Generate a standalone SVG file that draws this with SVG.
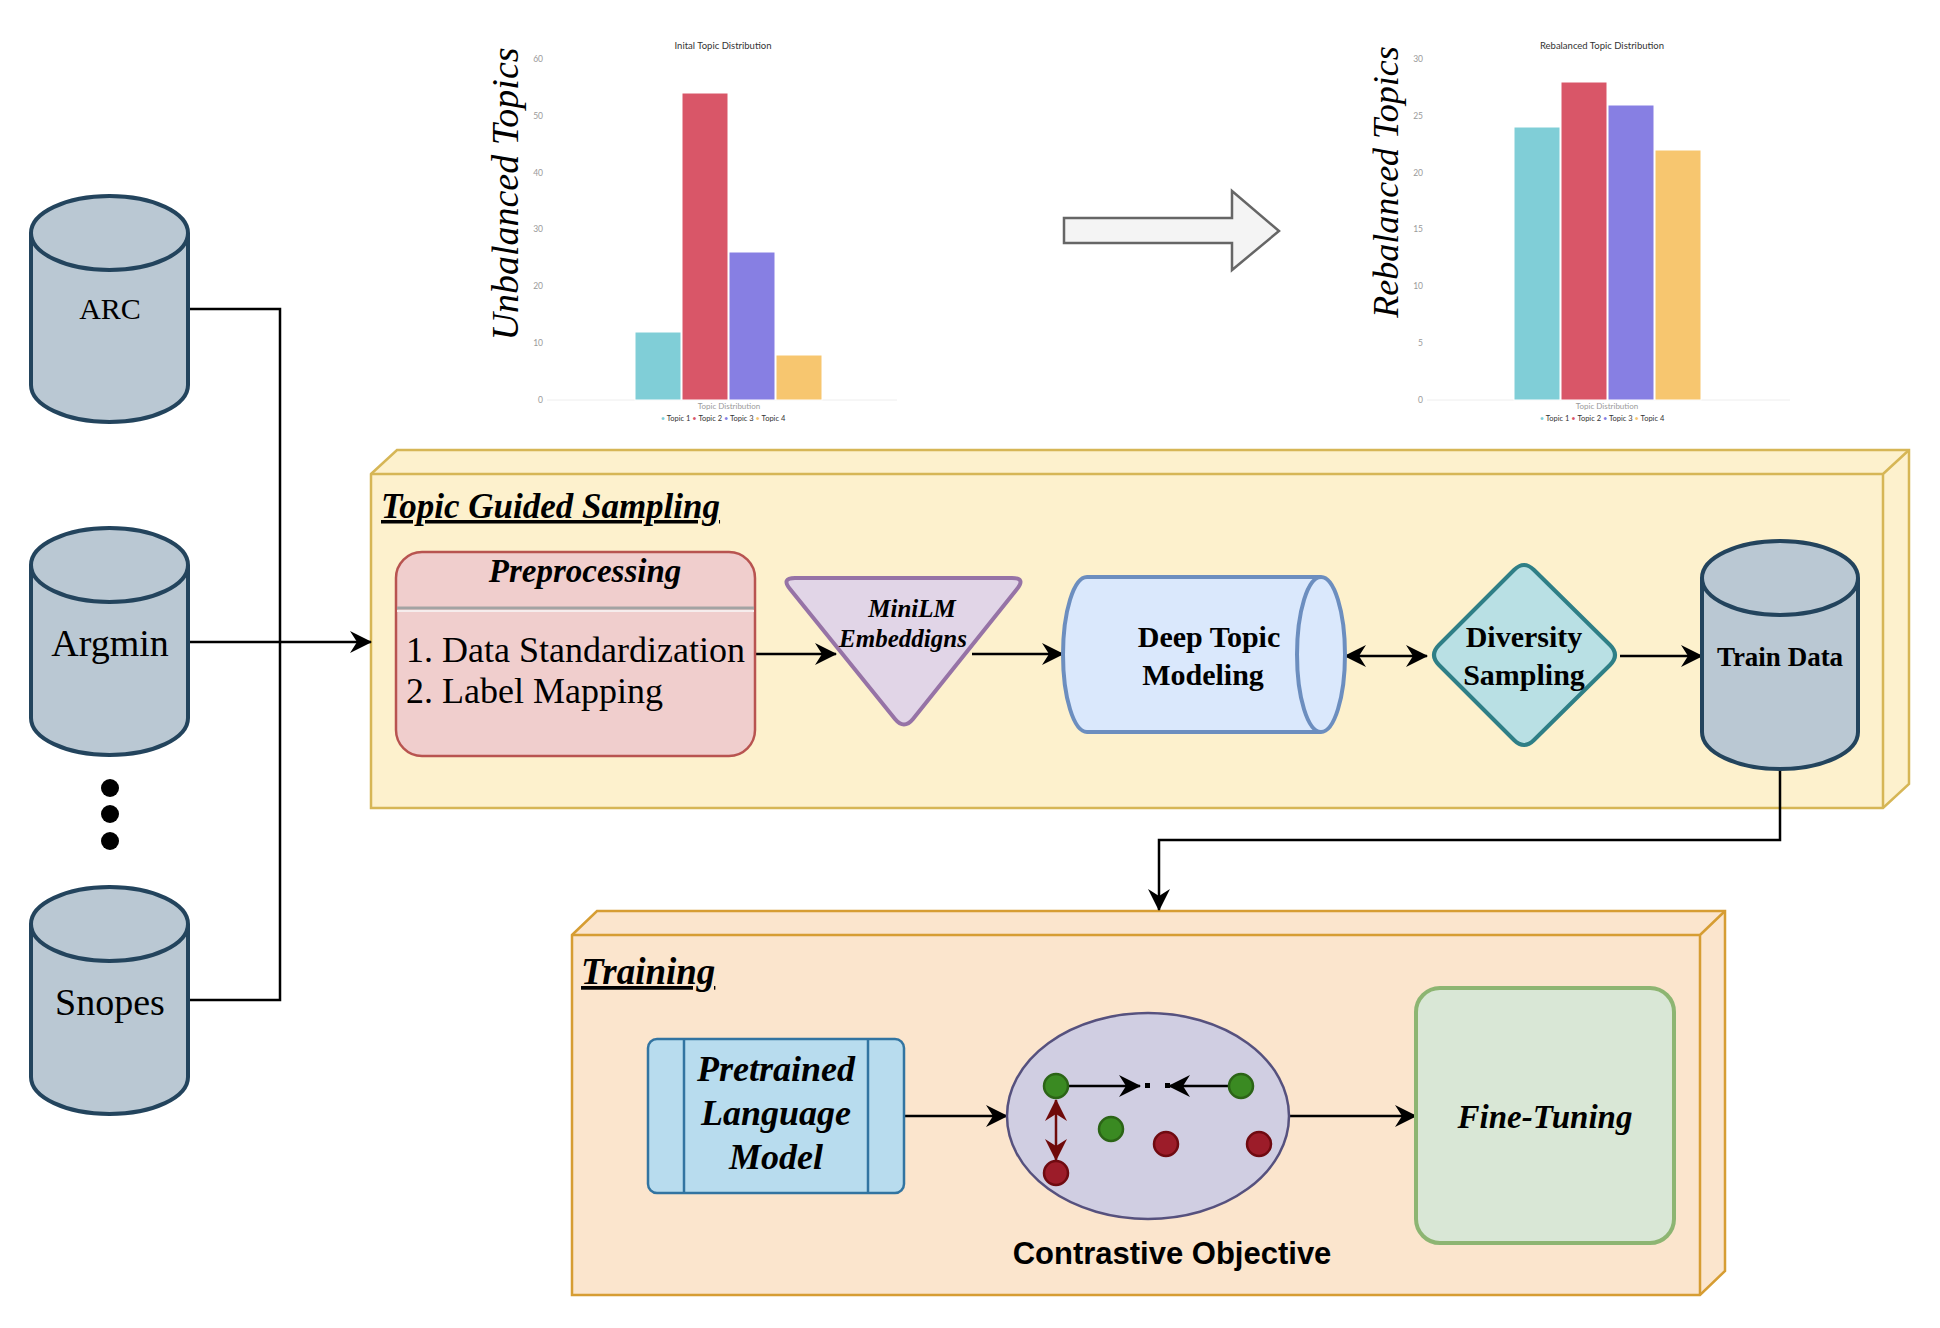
<svg xmlns="http://www.w3.org/2000/svg" width="1940" height="1328" viewBox="0 0 1940 1328">
<defs>
<style>
.serif{font-family:"Liberation Serif","Times New Roman",serif;fill:#000}
.bi{font-weight:bold;font-style:italic}
.b{font-weight:bold}
.it{font-style:italic}
.sans{font-family:"Liberation Sans",Arial,sans-serif;fill:#000}
.chart{font-family:Lato,"Open Sans","Liberation Sans",sans-serif}
.tick{font-size:8.5px;fill:#9a9a9a;text-anchor:end}
.ctitle{font-size:9.5px;fill:#333;text-anchor:middle}
.xlab{font-size:8px;fill:#9a9a9a;text-anchor:middle}
.leg{font-size:7.5px;fill:#333;text-anchor:middle}
.cyl{fill:#bac8d3;stroke:#23445d;stroke-width:4}
.conn{fill:none;stroke:#000;stroke-width:2.5}
.cube1{fill:#fdf1cd;stroke:#d6b656;stroke-width:2.5}
.cube2{fill:#fbe5cd;stroke:#d69d33;stroke-width:2.5}
.gdot{fill:#3a8a22;stroke:#2b6416;stroke-width:2.5}
.rdot{fill:#9c1c29;stroke:#6f0a10;stroke-width:2.5}
</style>
<marker id="arr" viewBox="0 0 22 22" refX="21" refY="11" markerWidth="22" markerHeight="22" markerUnits="userSpaceOnUse" orient="auto-start-reverse">
<path d="M0,0 L22,11 L0,22 L7,11 Z" fill="#000"/>
</marker>
<marker id="arrr" viewBox="0 0 22 22" refX="21" refY="11" markerWidth="22" markerHeight="22" markerUnits="userSpaceOnUse" orient="auto-start-reverse">
<path d="M0,0 L22,11 L0,22 L7,11 Z" fill="#6f0a0a"/>
</marker>
</defs>
<rect x="0" y="0" width="1940" height="1328" fill="#fff"/>

<!-- Left chart -->
<g id="chart-initial">
<text class="serif it" font-size="38" text-anchor="middle" transform="translate(518,194) rotate(-90)">Unbalanced Topics</text>
<text class="chart ctitle" x="723" y="49">Inital Topic Distribution</text>
<g class="chart tick">
<text x="543" y="62">60</text><text x="543" y="119">50</text><text x="543" y="176">40</text>
<text x="543" y="232">30</text><text x="543" y="289">20</text><text x="543" y="346">10</text><text x="543" y="403">0</text>
</g>
<line x1="547" y1="400" x2="897" y2="400" stroke="#eee" stroke-width="1"/>
<rect x="635" y="332" width="46" height="68" fill="#80ced7" stroke="#fff" stroke-width="1"/>
<rect x="682" y="93" width="46" height="307" fill="#d95668" stroke="#fff" stroke-width="1"/>
<rect x="729" y="252" width="46" height="148" fill="#877fe3" stroke="#fff" stroke-width="1"/>
<rect x="776" y="355" width="46" height="45" fill="#f7c66f" stroke="#fff" stroke-width="1"/>
<text class="chart xlab" x="729" y="409">Topic Distribution</text>
<text class="chart leg" x="723" y="421"><tspan fill="#80ced7">•</tspan> Topic 1 <tspan fill="#d95668">•</tspan> Topic 2 <tspan fill="#877fe3">•</tspan> Topic 3 <tspan fill="#f7c66f">•</tspan> Topic 4</text>
</g>

<!-- Block arrow -->
<g id="big-arrow">
<path d="M1064,218 H1232 V191 L1279,231 L1232,270 V243 H1064 Z" fill="#f4f4f4" stroke="#666" stroke-width="2.5"/>
</g>

<!-- Right chart -->
<g id="chart-rebalanced">
<text class="serif it" font-size="36" text-anchor="middle" transform="translate(1398,182) rotate(-90)">Rebalanced Topics</text>
<text class="chart ctitle" x="1602" y="49">Rebalanced Topic Distribution</text>
<g class="chart tick">
<text x="1423" y="62">30</text><text x="1423" y="119">25</text><text x="1423" y="176">20</text>
<text x="1423" y="232">15</text><text x="1423" y="289">10</text><text x="1423" y="346">5</text><text x="1423" y="403">0</text>
</g>
<line x1="1427" y1="400" x2="1790" y2="400" stroke="#eee" stroke-width="1"/>
<rect x="1514" y="127" width="46" height="273" fill="#80ced7" stroke="#fff" stroke-width="1"/>
<rect x="1561" y="82" width="46" height="318" fill="#d95668" stroke="#fff" stroke-width="1"/>
<rect x="1608" y="105" width="46" height="295" fill="#877fe3" stroke="#fff" stroke-width="1"/>
<rect x="1655" y="150" width="46" height="250" fill="#f7c66f" stroke="#fff" stroke-width="1"/>
<text class="chart xlab" x="1607" y="409">Topic Distribution</text>
<text class="chart leg" x="1602" y="421"><tspan fill="#80ced7">•</tspan> Topic 1 <tspan fill="#d95668">•</tspan> Topic 2 <tspan fill="#877fe3">•</tspan> Topic 3 <tspan fill="#f7c66f">•</tspan> Topic 4</text>
</g>

<!-- Topic Guided Sampling container -->
<g id="topic-guided-sampling">
<path class="cube1" d="M371,474 L397,450 L1909,450 L1909,784 L1883,808 L371,808 Z"/>
<path d="M371,474 H1883 V808 M1883,474 L1909,450" fill="none" stroke="#d6b656" stroke-width="2.5"/>
<text class="serif bi" font-size="35" x="381" y="518" text-decoration="underline">Topic Guided Sampling</text>
</g>

<!-- Training container -->
<g id="training">
<path class="cube2" d="M572,935 L597,911 L1725,911 L1725,1271 L1700,1295 L572,1295 Z"/>
<path d="M572,935 H1700 V1295 M1700,935 L1725,911" fill="none" stroke="#d69d33" stroke-width="2.5"/>
<text class="serif bi" font-size="37" x="581" y="984" text-decoration="underline">Training</text>
</g>

<!-- Connectors -->
<g id="connectors">
<path class="conn" d="M188,309 H280 V1000 H188"/>
<path class="conn" d="M188,642 H371" marker-end="url(#arr)"/>
<path class="conn" d="M755,654 H836" marker-end="url(#arr)"/>
<path class="conn" d="M972,654 H1063" marker-end="url(#arr)"/>
<path class="conn" d="M1345,656 H1427" marker-start="url(#arr)" marker-end="url(#arr)"/>
<path class="conn" d="M1620,656 H1702" marker-end="url(#arr)"/>
<path class="conn" d="M1780,770 V840 H1159 V910" marker-end="url(#arr)"/>
<path class="conn" d="M904,1116 H1007" marker-end="url(#arr)"/>
<path class="conn" d="M1289,1116 H1416" marker-end="url(#arr)"/>
</g>

<!-- Source datasets -->
<g id="arc">
<path class="cyl" d="M31,233 A78.5,37 0 0 1 188,233 V385 A78.5,37 0 0 1 31,385 Z"/>
<path class="cyl" d="M31,233 A78.5,37 0 0 0 188,233" fill="none"/>
<text class="serif" font-size="30" x="110" y="319" text-anchor="middle">ARC</text>
</g>
<g id="argmin">
<path class="cyl" d="M31,565 A78.5,37 0 0 1 188,565 V718 A78.5,37 0 0 1 31,718 Z"/>
<path class="cyl" d="M31,565 A78.5,37 0 0 0 188,565" fill="none"/>
<text class="serif" font-size="38" x="110" y="656" text-anchor="middle">Argmin</text>
</g>
<g id="ellipsis-dots">
<circle cx="110" cy="788" r="9" fill="#000"/>
<circle cx="110" cy="814" r="9" fill="#000"/>
<circle cx="110" cy="841" r="9" fill="#000"/>
</g>
<g id="snopes">
<path class="cyl" d="M31,924 A78.5,37 0 0 1 188,924 V1077 A78.5,37 0 0 1 31,1077 Z"/>
<path class="cyl" d="M31,924 A78.5,37 0 0 0 188,924" fill="none"/>
<text class="serif" font-size="38" x="110" y="1015" text-anchor="middle">Snopes</text>
</g>

<!-- Preprocessing -->
<g id="preprocessing">
<rect x="396" y="552" width="359" height="204" rx="26" ry="26" fill="#f0cecd" stroke="#b85450" stroke-width="2.5"/>
<line x1="397" y1="608" x2="754" y2="608" stroke="#a3a3a3" stroke-width="3"/>
<line x1="397" y1="611" x2="754" y2="611" stroke="#f6eded" stroke-width="2"/>
<text class="serif bi" font-size="33" x="585" y="582" text-anchor="middle">Preprocessing</text>
<text class="serif" font-size="36" x="406" y="662">1. Data Standardization</text>
<text class="serif" font-size="36" x="406" y="703">2. Label Mapping</text>
</g>

<!-- MiniLM -->
<g id="minilm">
<path d="M795,578 L1012,578 Q1026,578 1017,589 L913,719 Q904,730 895,719 L790,589 Q781,578 795,578 Z" fill="#e1d5e7" stroke="#9673a6" stroke-width="4"/>
<text class="serif bi" font-size="25" x="912" y="617" text-anchor="middle">MiniLM</text>
<text class="serif bi" font-size="25" x="903" y="647" text-anchor="middle">Embeddigns</text>
</g>

<!-- Deep Topic Modeling -->
<g id="deep-topic-modeling">
<path d="M1087,577 H1321 A24,77.5 0 0 1 1321,732 H1087 A24,77.5 0 0 1 1087,577 Z" fill="#dae8fc" stroke="#6c8ebf" stroke-width="4"/>
<path d="M1321,577 A24,77.5 0 0 0 1321,732" fill="none" stroke="#6c8ebf" stroke-width="4"/>
<text class="serif b" font-size="30" x="1209" y="647" text-anchor="middle">Deep Topic</text>
<text class="serif b" font-size="30" x="1203" y="685" text-anchor="middle">Modeling</text>
</g>

<!-- Diversity Sampling -->
<g id="diversity-sampling">
<path d="M1514,570 Q1524,560 1534,570 L1610,645 Q1620,655 1610,665 L1534,740 Q1524,750 1514,740 L1439,665 Q1429,655 1439,645 Z" fill="#b9e0e4" stroke="#2f7f86" stroke-width="4"/>
<text class="serif b" font-size="30" x="1524" y="647" text-anchor="middle">Diversity</text>
<text class="serif b" font-size="30" x="1524" y="685" text-anchor="middle">Sampling</text>
</g>

<!-- Train Data -->
<g id="train-data">
<path class="cyl" d="M1702,578 A78,37 0 0 1 1858,578 V732 A78,37 0 0 1 1702,732 Z"/>
<path class="cyl" d="M1702,578 A78,37 0 0 0 1858,578" fill="none"/>
<text class="serif b" font-size="27" x="1780" y="666" text-anchor="middle">Train Data</text>
</g>

<!-- Pretrained Language Model -->
<g id="pretrained-lm">
<rect x="648" y="1039" width="256" height="154" rx="9" ry="9" fill="#b8dcee" stroke="#3274a1" stroke-width="2.5"/>
<line x1="684" y1="1039" x2="684" y2="1193" stroke="#3274a1" stroke-width="2.5"/>
<line x1="868" y1="1039" x2="868" y2="1193" stroke="#3274a1" stroke-width="2.5"/>
<text class="serif bi" font-size="36" x="776" y="1081" text-anchor="middle">Pretrained</text>
<text class="serif bi" font-size="36" x="776" y="1125" text-anchor="middle">Language</text>
<text class="serif bi" font-size="36" x="776" y="1169" text-anchor="middle">Model</text>
</g>

<!-- Contrastive Objective -->
<g id="contrastive-objective">
<ellipse cx="1148" cy="1116" rx="141" ry="103" fill="#d0cee2" stroke="#56517e" stroke-width="2.5"/>
<path d="M1067,1086 H1140" stroke="#000" stroke-width="2.5" marker-end="url(#arr)"/>
<path d="M1229,1086 H1169" stroke="#000" stroke-width="2.5" marker-end="url(#arr)"/>
<rect x="1145" y="1083" width="5" height="5" fill="#000"/>
<rect x="1165" y="1083" width="5" height="5" fill="#000"/>
<path d="M1056,1100 V1160" stroke="#6f0a0a" stroke-width="2.5" marker-start="url(#arrr)" marker-end="url(#arrr)"/>
<circle class="gdot" cx="1056" cy="1086" r="12"/>
<circle class="gdot" cx="1241" cy="1086" r="12"/>
<circle class="gdot" cx="1111" cy="1129" r="12"/>
<circle class="rdot" cx="1056" cy="1173" r="12"/>
<circle class="rdot" cx="1166" cy="1144" r="12"/>
<circle class="rdot" cx="1259" cy="1144" r="12"/>
<text class="sans b" font-size="31" x="1172" y="1264" text-anchor="middle">Contrastive Objective</text>
</g>

<!-- Fine-Tuning -->
<g id="fine-tuning">
<rect x="1416" y="988" width="258" height="255" rx="24" ry="24" fill="#d9e7d6" stroke="#8db572" stroke-width="4"/>
<text class="serif bi" font-size="33" x="1545" y="1128" text-anchor="middle">Fine-Tuning</text>
</g>
</svg>
